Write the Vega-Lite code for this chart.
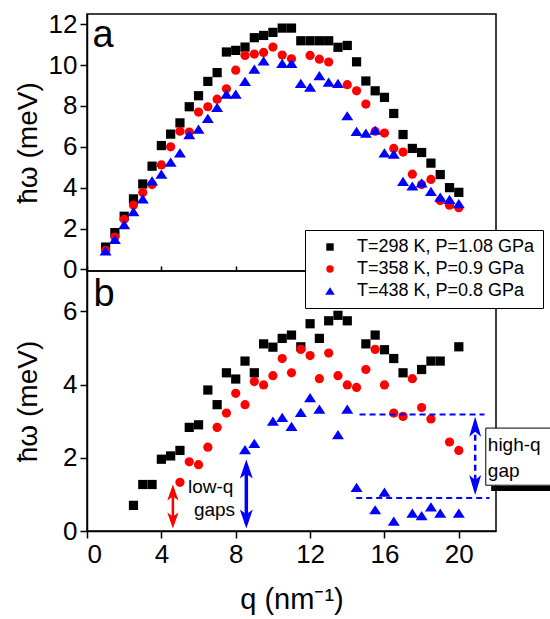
{
  "$schema": "https://vega.github.io/schema/vega-lite/v6.json",
  "background": "white",
  "padding": {"left": 13, "top": 10, "right": 0, "bottom": 0},
  "spacing": 0,
  "bounds": "flush",
  "config": {
    "font": "Liberation Sans",
    "view": {"stroke": "black", "strokeWidth": 1.5},
    "axis": {
      "grid": false,
      "domainColor": "black",
      "domainWidth": 1.5,
      "tickColor": "black",
      "tickWidth": 1.5,
      "tickSize": 7,
      "labelColor": "black",
      "labelFontSize": 26,
      "labelPadding": 3,
      "titleColor": "black",
      "titleFontSize": 28,
      "titleFontWeight": "normal"
    },
    "legend": {
      "orient": "none",
      "legendX": 218,
      "legendY": 216,
      "title": null,
      "padding": 8,
      "strokeColor": "black",
      "fillColor": "white",
      "labelFontSize": 18,
      "labelColor": "black",
      "labelLimit": 0,
      "labelOffset": 18,
      "rowPadding": 4,
      "symbolSize": 55,
      "symbolStrokeWidth": 0,
      "symbolOffset": 8
    }
  },
  "datasets": {
    "panelA": [
      {"series": "T=298 K, P=1.08 GPa", "q": 1, "E": 1.09},
      {"series": "T=298 K, P=1.08 GPa", "q": 1.5, "E": 1.8},
      {"series": "T=298 K, P=1.08 GPa", "q": 2, "E": 2.6},
      {"series": "T=298 K, P=1.08 GPa", "q": 2.5, "E": 3.45},
      {"series": "T=298 K, P=1.08 GPa", "q": 3, "E": 4.18},
      {"series": "T=298 K, P=1.08 GPa", "q": 3.5, "E": 5.05},
      {"series": "T=298 K, P=1.08 GPa", "q": 4, "E": 6.06},
      {"series": "T=298 K, P=1.08 GPa", "q": 4.5, "E": 6.62},
      {"series": "T=298 K, P=1.08 GPa", "q": 5, "E": 7.17},
      {"series": "T=298 K, P=1.08 GPa", "q": 5.5, "E": 7.96},
      {"series": "T=298 K, P=1.08 GPa", "q": 6, "E": 8.5},
      {"series": "T=298 K, P=1.08 GPa", "q": 6.5, "E": 9.2},
      {"series": "T=298 K, P=1.08 GPa", "q": 7, "E": 9.63},
      {"series": "T=298 K, P=1.08 GPa", "q": 7.5, "E": 10.64},
      {"series": "T=298 K, P=1.08 GPa", "q": 8, "E": 10.72},
      {"series": "T=298 K, P=1.08 GPa", "q": 8.5, "E": 10.88},
      {"series": "T=298 K, P=1.08 GPa", "q": 9, "E": 11.34},
      {"series": "T=298 K, P=1.08 GPa", "q": 9.5, "E": 11.45},
      {"series": "T=298 K, P=1.08 GPa", "q": 10, "E": 11.6},
      {"series": "T=298 K, P=1.08 GPa", "q": 10.5, "E": 11.81},
      {"series": "T=298 K, P=1.08 GPa", "q": 11, "E": 11.81},
      {"series": "T=298 K, P=1.08 GPa", "q": 11.5, "E": 11.19},
      {"series": "T=298 K, P=1.08 GPa", "q": 12, "E": 11.19},
      {"series": "T=298 K, P=1.08 GPa", "q": 12.5, "E": 11.19},
      {"series": "T=298 K, P=1.08 GPa", "q": 13, "E": 11.19},
      {"series": "T=298 K, P=1.08 GPa", "q": 13.5, "E": 10.87},
      {"series": "T=298 K, P=1.08 GPa", "q": 14, "E": 10.96},
      {"series": "T=298 K, P=1.08 GPa", "q": 14.5, "E": 10.16},
      {"series": "T=298 K, P=1.08 GPa", "q": 15, "E": 9.22},
      {"series": "T=298 K, P=1.08 GPa", "q": 15.5, "E": 8.74},
      {"series": "T=298 K, P=1.08 GPa", "q": 16, "E": 8.42},
      {"series": "T=298 K, P=1.08 GPa", "q": 16.5, "E": 7.63},
      {"series": "T=298 K, P=1.08 GPa", "q": 17, "E": 6.6},
      {"series": "T=298 K, P=1.08 GPa", "q": 17.5, "E": 5.92},
      {"series": "T=298 K, P=1.08 GPa", "q": 18, "E": 5.72},
      {"series": "T=298 K, P=1.08 GPa", "q": 18.5, "E": 5.2},
      {"series": "T=298 K, P=1.08 GPa", "q": 19, "E": 4.64},
      {"series": "T=298 K, P=1.08 GPa", "q": 19.5, "E": 4.0},
      {"series": "T=298 K, P=1.08 GPa", "q": 20, "E": 3.77},
      {"series": "T=358 K, P=0.9 GPa", "q": 1, "E": 0.93},
      {"series": "T=358 K, P=0.9 GPa", "q": 1.5, "E": 1.58},
      {"series": "T=358 K, P=0.9 GPa", "q": 2, "E": 2.45},
      {"series": "T=358 K, P=0.9 GPa", "q": 2.5, "E": 3.15},
      {"series": "T=358 K, P=0.9 GPa", "q": 3, "E": 3.76},
      {"series": "T=358 K, P=0.9 GPa", "q": 3.5, "E": 4.15},
      {"series": "T=358 K, P=0.9 GPa", "q": 4, "E": 5.11},
      {"series": "T=358 K, P=0.9 GPa", "q": 4.5, "E": 6.0},
      {"series": "T=358 K, P=0.9 GPa", "q": 5, "E": 6.76},
      {"series": "T=358 K, P=0.9 GPa", "q": 5.5, "E": 6.72},
      {"series": "T=358 K, P=0.9 GPa", "q": 6, "E": 7.7},
      {"series": "T=358 K, P=0.9 GPa", "q": 6.5, "E": 7.96},
      {"series": "T=358 K, P=0.9 GPa", "q": 7, "E": 8.33},
      {"series": "T=358 K, P=0.9 GPa", "q": 7.5, "E": 8.84},
      {"series": "T=358 K, P=0.9 GPa", "q": 8, "E": 9.75},
      {"series": "T=358 K, P=0.9 GPa", "q": 8.5, "E": 10.47},
      {"series": "T=358 K, P=0.9 GPa", "q": 9, "E": 10.54},
      {"series": "T=358 K, P=0.9 GPa", "q": 9.5, "E": 10.62},
      {"series": "T=358 K, P=0.9 GPa", "q": 10, "E": 10.88},
      {"series": "T=358 K, P=0.9 GPa", "q": 10.5, "E": 10.49},
      {"series": "T=358 K, P=0.9 GPa", "q": 11, "E": 10.31},
      {"series": "T=358 K, P=0.9 GPa", "q": 12, "E": 10.47},
      {"series": "T=358 K, P=0.9 GPa", "q": 12.5, "E": 10.29},
      {"series": "T=358 K, P=0.9 GPa", "q": 13, "E": 10.15},
      {"series": "T=358 K, P=0.9 GPa", "q": 14, "E": 9.04},
      {"series": "T=358 K, P=0.9 GPa", "q": 14.5, "E": 8.74},
      {"series": "T=358 K, P=0.9 GPa", "q": 15, "E": 8.09},
      {"series": "T=358 K, P=0.9 GPa", "q": 15.5, "E": 6.76},
      {"series": "T=358 K, P=0.9 GPa", "q": 16, "E": 6.67},
      {"series": "T=358 K, P=0.9 GPa", "q": 16.5, "E": 5.92},
      {"series": "T=358 K, P=0.9 GPa", "q": 17, "E": 5.74},
      {"series": "T=358 K, P=0.9 GPa", "q": 17.5, "E": 4.66},
      {"series": "T=358 K, P=0.9 GPa", "q": 18, "E": 4.15},
      {"series": "T=358 K, P=0.9 GPa", "q": 18.5, "E": 4.4},
      {"series": "T=358 K, P=0.9 GPa", "q": 19, "E": 3.37},
      {"series": "T=358 K, P=0.9 GPa", "q": 19.5, "E": 3.14},
      {"series": "T=358 K, P=0.9 GPa", "q": 20, "E": 3.02},
      {"series": "T=438 K, P=0.8 GPa", "q": 1, "E": 0.9},
      {"series": "T=438 K, P=0.8 GPa", "q": 1.5, "E": 1.47},
      {"series": "T=438 K, P=0.8 GPa", "q": 2, "E": 2.19},
      {"series": "T=438 K, P=0.8 GPa", "q": 2.5, "E": 2.83},
      {"series": "T=438 K, P=0.8 GPa", "q": 3, "E": 3.45},
      {"series": "T=438 K, P=0.8 GPa", "q": 3.5, "E": 4.33},
      {"series": "T=438 K, P=0.8 GPa", "q": 4, "E": 4.66},
      {"series": "T=438 K, P=0.8 GPa", "q": 4.5, "E": 5.25},
      {"series": "T=438 K, P=0.8 GPa", "q": 5, "E": 5.7},
      {"series": "T=438 K, P=0.8 GPa", "q": 5.5, "E": 6.6},
      {"series": "T=438 K, P=0.8 GPa", "q": 6, "E": 6.86},
      {"series": "T=438 K, P=0.8 GPa", "q": 6.5, "E": 7.39},
      {"series": "T=438 K, P=0.8 GPa", "q": 7, "E": 7.93},
      {"series": "T=438 K, P=0.8 GPa", "q": 7.5, "E": 8.58},
      {"series": "T=438 K, P=0.8 GPa", "q": 8, "E": 8.58},
      {"series": "T=438 K, P=0.8 GPa", "q": 8.5, "E": 9.2},
      {"series": "T=438 K, P=0.8 GPa", "q": 9, "E": 9.8},
      {"series": "T=438 K, P=0.8 GPa", "q": 9.5, "E": 10.21},
      {"series": "T=438 K, P=0.8 GPa", "q": 10.5, "E": 10.08},
      {"series": "T=438 K, P=0.8 GPa", "q": 11, "E": 10.08},
      {"series": "T=438 K, P=0.8 GPa", "q": 11.5, "E": 9.1},
      {"series": "T=438 K, P=0.8 GPa", "q": 12, "E": 8.92},
      {"series": "T=438 K, P=0.8 GPa", "q": 12.5, "E": 9.48},
      {"series": "T=438 K, P=0.8 GPa", "q": 13, "E": 9.17},
      {"series": "T=438 K, P=0.8 GPa", "q": 13.5, "E": 9.1},
      {"series": "T=438 K, P=0.8 GPa", "q": 14, "E": 7.52},
      {"series": "T=438 K, P=0.8 GPa", "q": 14.5, "E": 6.75},
      {"series": "T=438 K, P=0.8 GPa", "q": 15, "E": 6.67},
      {"series": "T=438 K, P=0.8 GPa", "q": 15.5, "E": 6.81},
      {"series": "T=438 K, P=0.8 GPa", "q": 16, "E": 5.7},
      {"series": "T=438 K, P=0.8 GPa", "q": 16.5, "E": 5.64},
      {"series": "T=438 K, P=0.8 GPa", "q": 17, "E": 4.31},
      {"series": "T=438 K, P=0.8 GPa", "q": 17.5, "E": 4.08},
      {"series": "T=438 K, P=0.8 GPa", "q": 18, "E": 4.23},
      {"series": "T=438 K, P=0.8 GPa", "q": 18.5, "E": 3.82},
      {"series": "T=438 K, P=0.8 GPa", "q": 19, "E": 3.54},
      {"series": "T=438 K, P=0.8 GPa", "q": 19.5, "E": 3.43},
      {"series": "T=438 K, P=0.8 GPa", "q": 20, "E": 3.22}
    ],
    "panelB": [
      {"series": "T=298 K, P=1.08 GPa", "q": 2.5, "E": 0.7},
      {"series": "T=298 K, P=1.08 GPa", "q": 3, "E": 1.27},
      {"series": "T=298 K, P=1.08 GPa", "q": 3.5, "E": 1.27},
      {"series": "T=298 K, P=1.08 GPa", "q": 4, "E": 1.96},
      {"series": "T=298 K, P=1.08 GPa", "q": 4.5, "E": 2.05},
      {"series": "T=298 K, P=1.08 GPa", "q": 5, "E": 2.2},
      {"series": "T=298 K, P=1.08 GPa", "q": 5.5, "E": 2.83},
      {"series": "T=298 K, P=1.08 GPa", "q": 6, "E": 2.9},
      {"series": "T=298 K, P=1.08 GPa", "q": 6.5, "E": 3.85},
      {"series": "T=298 K, P=1.08 GPa", "q": 7, "E": 3.45},
      {"series": "T=298 K, P=1.08 GPa", "q": 7.5, "E": 4.32},
      {"series": "T=298 K, P=1.08 GPa", "q": 8, "E": 4.15},
      {"series": "T=298 K, P=1.08 GPa", "q": 8.5, "E": 4.64},
      {"series": "T=298 K, P=1.08 GPa", "q": 9, "E": 4.32},
      {"series": "T=298 K, P=1.08 GPa", "q": 9.5, "E": 5.11},
      {"series": "T=298 K, P=1.08 GPa", "q": 10, "E": 5.02},
      {"series": "T=298 K, P=1.08 GPa", "q": 10.5, "E": 5.26},
      {"series": "T=298 K, P=1.08 GPa", "q": 11, "E": 5.35},
      {"series": "T=298 K, P=1.08 GPa", "q": 11.5, "E": 5.03},
      {"series": "T=298 K, P=1.08 GPa", "q": 12, "E": 5.66},
      {"series": "T=298 K, P=1.08 GPa", "q": 12.5, "E": 5.26},
      {"series": "T=298 K, P=1.08 GPa", "q": 13, "E": 5.74},
      {"series": "T=298 K, P=1.08 GPa", "q": 13.5, "E": 5.89},
      {"series": "T=298 K, P=1.08 GPa", "q": 14, "E": 5.74},
      {"series": "T=298 K, P=1.08 GPa", "q": 15, "E": 5.11},
      {"series": "T=298 K, P=1.08 GPa", "q": 15.5, "E": 5.35},
      {"series": "T=298 K, P=1.08 GPa", "q": 16, "E": 4.95},
      {"series": "T=298 K, P=1.08 GPa", "q": 16.5, "E": 4.71},
      {"series": "T=298 K, P=1.08 GPa", "q": 17, "E": 4.32},
      {"series": "T=298 K, P=1.08 GPa", "q": 18, "E": 4.41},
      {"series": "T=298 K, P=1.08 GPa", "q": 18.5, "E": 4.64},
      {"series": "T=298 K, P=1.08 GPa", "q": 19, "E": 4.64},
      {"series": "T=298 K, P=1.08 GPa", "q": 20, "E": 5.03},
      {"series": "T=358 K, P=0.9 GPa", "q": 5, "E": 1.33},
      {"series": "T=358 K, P=0.9 GPa", "q": 5.5, "E": 1.89},
      {"series": "T=358 K, P=0.9 GPa", "q": 6, "E": 1.81},
      {"series": "T=358 K, P=0.9 GPa", "q": 6.5, "E": 2.29},
      {"series": "T=358 K, P=0.9 GPa", "q": 7, "E": 2.83},
      {"series": "T=358 K, P=0.9 GPa", "q": 7.5, "E": 3.22},
      {"series": "T=358 K, P=0.9 GPa", "q": 8, "E": 3.76},
      {"series": "T=358 K, P=0.9 GPa", "q": 8.5, "E": 3.45},
      {"series": "T=358 K, P=0.9 GPa", "q": 9, "E": 4.08},
      {"series": "T=358 K, P=0.9 GPa", "q": 9.5, "E": 3.99},
      {"series": "T=358 K, P=0.9 GPa", "q": 10, "E": 4.24},
      {"series": "T=358 K, P=0.9 GPa", "q": 10.5, "E": 4.71},
      {"series": "T=358 K, P=0.9 GPa", "q": 11, "E": 4.32},
      {"series": "T=358 K, P=0.9 GPa", "q": 11.5, "E": 4.96},
      {"series": "T=358 K, P=0.9 GPa", "q": 12, "E": 4.79},
      {"series": "T=358 K, P=0.9 GPa", "q": 12.5, "E": 4.16},
      {"series": "T=358 K, P=0.9 GPa", "q": 13, "E": 4.86},
      {"series": "T=358 K, P=0.9 GPa", "q": 13.5, "E": 4.24},
      {"series": "T=358 K, P=0.9 GPa", "q": 14, "E": 3.99},
      {"series": "T=358 K, P=0.9 GPa", "q": 14.5, "E": 3.92},
      {"series": "T=358 K, P=0.9 GPa", "q": 15, "E": 4.41},
      {"series": "T=358 K, P=0.9 GPa", "q": 15.5, "E": 4.96},
      {"series": "T=358 K, P=0.9 GPa", "q": 16, "E": 3.99},
      {"series": "T=358 K, P=0.9 GPa", "q": 16.5, "E": 3.22},
      {"series": "T=358 K, P=0.9 GPa", "q": 17, "E": 3.13},
      {"series": "T=358 K, P=0.9 GPa", "q": 17.5, "E": 4.16},
      {"series": "T=358 K, P=0.9 GPa", "q": 18, "E": 3.37},
      {"series": "T=358 K, P=0.9 GPa", "q": 18.5, "E": 3.06},
      {"series": "T=358 K, P=0.9 GPa", "q": 19.5, "E": 2.43},
      {"series": "T=358 K, P=0.9 GPa", "q": 20, "E": 2.2},
      {"series": "T=438 K, P=0.8 GPa", "q": 8.5, "E": 2.22},
      {"series": "T=438 K, P=0.8 GPa", "q": 9, "E": 2.39},
      {"series": "T=438 K, P=0.8 GPa", "q": 10, "E": 3.0},
      {"series": "T=438 K, P=0.8 GPa", "q": 10.5, "E": 3.1},
      {"series": "T=438 K, P=0.8 GPa", "q": 11, "E": 2.86},
      {"series": "T=438 K, P=0.8 GPa", "q": 11.5, "E": 3.24},
      {"series": "T=438 K, P=0.8 GPa", "q": 12, "E": 3.64},
      {"series": "T=438 K, P=0.8 GPa", "q": 12.5, "E": 3.33},
      {"series": "T=438 K, P=0.8 GPa", "q": 13.5, "E": 2.63},
      {"series": "T=438 K, P=0.8 GPa", "q": 14, "E": 3.33},
      {"series": "T=438 K, P=0.8 GPa", "q": 14.5, "E": 1.19},
      {"series": "T=438 K, P=0.8 GPa", "q": 15.5, "E": 0.58},
      {"series": "T=438 K, P=0.8 GPa", "q": 16, "E": 1.06},
      {"series": "T=438 K, P=0.8 GPa", "q": 16.5, "E": 0.27},
      {"series": "T=438 K, P=0.8 GPa", "q": 17.5, "E": 0.49},
      {"series": "T=438 K, P=0.8 GPa", "q": 18, "E": 0.42},
      {"series": "T=438 K, P=0.8 GPa", "q": 18.5, "E": 0.66},
      {"series": "T=438 K, P=0.8 GPa", "q": 19, "E": 0.49},
      {"series": "T=438 K, P=0.8 GPa", "q": 20, "E": 0.49}
    ]
  },
  "vconcat": [
    {
      "width": 409,
      "height": 257,
      "layer": [
        {
          "data": {"name": "panelA"},
          "mark": {"type": "point", "filled": true, "opacity": 1, "size": 85},
          "encoding": {
            "x": {"field": "q", "type": "quantitative",
                  "scale": {"domain": [0, 22], "nice": false},
                  "axis": {"values": [0, 2, 4, 6, 8, 10, 12, 14, 16, 18, 20, 22], "labels": false, "title": null, "tickSize": -5, "domain": false}},
            "y": {"field": "E", "type": "quantitative",
                  "scale": {"domain": [-0.08, 12.5], "nice": false, "zero": false},
                  "axis": {"values": [0, 1, 2, 3, 4, 5, 6, 7, 8, 9, 10, 11, 12],
                           "labelExpr": "datum.value % 2 === 0 ? datum.label : ''",
                           "title": "ħω (meV)", "titlePadding": 6}},
            "color": {"field": "series", "type": "nominal",
                      "scale": {"domain": ["T=298 K, P=1.08 GPa", "T=358 K, P=0.9 GPa", "T=438 K, P=0.8 GPa"], "range": ["#000000", "#ff0000", "#0000ff"]}},
            "shape": {"field": "series", "type": "nominal",
                      "scale": {"domain": ["T=298 K, P=1.08 GPa", "T=358 K, P=0.9 GPa", "T=438 K, P=0.8 GPa"], "range": ["square", "circle", "M0,-1L1.3,1L-1.3,1Z"]}}
          }
        },
        {
          "data": {"values": [{"label": "a", "q": 0.3, "E": 11.4}]},
          "mark": {"type": "text", "align": "left", "baseline": "middle", "fontSize": 38, "color": "black"},
          "encoding": {
            "x": {"field": "q", "type": "quantitative"},
            "y": {"field": "E", "type": "quantitative"},
            "text": {"field": "label"}
          }
        }
      ]
    },
    {
      "width": 409,
      "height": 260,
      "layer": [
        {
          "data": {"name": "panelB"},
          "mark": {"type": "point", "filled": true, "opacity": 1, "size": 85},
          "encoding": {
            "x": {"field": "q", "type": "quantitative",
                  "scale": {"domain": [0, 22], "nice": false},
                  "axis": {"values": [0, 2, 4, 6, 8, 10, 12, 14, 16, 18, 20, 22],
                           "labelExpr": "datum.value % 4 === 0 ? datum.label : ''",
                           "title": "q (nm⁻¹)", "titleFontSize": 29, "titlePadding": 18}},
            "y": {"field": "E", "type": "quantitative",
                  "scale": {"domain": [0, 7.1], "nice": false},
                  "axis": {"values": [0, 1, 2, 3, 4, 5, 6, 7],
                           "labelExpr": "datum.value % 2 === 0 ? datum.label : ''",
                           "title": "ħω (meV)", "titlePadding": 20}},
            "color": {"field": "series", "type": "nominal"},
            "shape": {"field": "series", "type": "nominal"}
          }
        },
        {
          "data": {"values": [{"q": 4.62, "lo": 0.2, "hi": 1.15}]},
          "mark": {"type": "rule", "color": "#ff0000", "strokeWidth": 2.5},
          "encoding": {"x": {"field": "q", "type": "quantitative"}, "y": {"field": "lo", "type": "quantitative"}, "y2": {"field": "hi"}}
        },
        {
          "data": {"values": [{"q": 4.62, "E": 1.27}]},
          "mark": {"type": "point", "filled": true, "opacity": 1, "color": "#ff0000", "size": 256, "shape": "M0,0L0.7,2L0,1.5L-0.7,2Z"},
          "encoding": {"x": {"field": "q", "type": "quantitative"}, "y": {"field": "E", "type": "quantitative"}}
        },
        {
          "data": {"values": [{"q": 4.62, "E": 0.07}]},
          "mark": {"type": "point", "filled": true, "opacity": 1, "color": "#ff0000", "size": 256, "shape": "M0,0L-0.7,-2L0,-1.5L0.7,-2Z"},
          "encoding": {"x": {"field": "q", "type": "quantitative"}, "y": {"field": "E", "type": "quantitative"}}
        },
        {
          "data": {"values": [{"q": 8.57, "lo": 0.2, "hi": 1.8}]},
          "mark": {"type": "rule", "color": "#0000ff", "strokeWidth": 3.5},
          "encoding": {"x": {"field": "q", "type": "quantitative"}, "y": {"field": "lo", "type": "quantitative"}, "y2": {"field": "hi"}}
        },
        {
          "data": {"values": [{"q": 8.57, "E": 1.95}]},
          "mark": {"type": "point", "filled": true, "opacity": 1, "color": "#0000ff", "size": 361, "shape": "M0,0L0.68,2L0,1.5L-0.68,2Z"},
          "encoding": {"x": {"field": "q", "type": "quantitative"}, "y": {"field": "E", "type": "quantitative"}}
        },
        {
          "data": {"values": [{"q": 8.57, "E": 0.07}]},
          "mark": {"type": "point", "filled": true, "opacity": 1, "color": "#0000ff", "size": 361, "shape": "M0,0L-0.68,-2L0,-1.5L0.68,-2Z"},
          "encoding": {"x": {"field": "q", "type": "quantitative"}, "y": {"field": "E", "type": "quantitative"}}
        },
        {
          "data": {"values": [{"q": 20.88, "lo": 1.1, "hi": 3.0}]},
          "mark": {"type": "rule", "color": "#0000ff", "strokeWidth": 2.5, "strokeDash": [6, 4]},
          "encoding": {"x": {"field": "q", "type": "quantitative"}, "y": {"field": "lo", "type": "quantitative"}, "y2": {"field": "hi"}}
        },
        {
          "data": {"values": [{"q": 20.88, "E": 3.12}]},
          "mark": {"type": "point", "filled": true, "opacity": 1, "color": "#0000ff", "size": 400, "shape": "M0,0L0.6,2L0,1.5L-0.6,2Z"},
          "encoding": {"x": {"field": "q", "type": "quantitative"}, "y": {"field": "E", "type": "quantitative"}}
        },
        {
          "data": {"values": [{"q": 20.88, "E": 0.98}]},
          "mark": {"type": "point", "filled": true, "opacity": 1, "color": "#0000ff", "size": 400, "shape": "M0,0L-0.6,-2L0,-1.5L0.6,-2Z"},
          "encoding": {"x": {"field": "q", "type": "quantitative"}, "y": {"field": "E", "type": "quantitative"}}
        },
        {
          "data": {"values": [{"q1": 14.66, "q2": 21.38, "E": 3.18}, {"q1": 14.48, "q2": 21.65, "E": 0.9}]},
          "mark": {"type": "rule", "color": "#0000ff", "strokeWidth": 2, "strokeDash": [6, 4]},
          "encoding": {"x": {"field": "q1", "type": "quantitative"}, "x2": {"field": "q2"}, "y": {"field": "E", "type": "quantitative"}}
        },
        {
          "data": {"values": [{"q1": 21.74, "q2": 26, "E": 1.16}]},
          "mark": {"type": "rule", "color": "black", "strokeWidth": 5},
          "encoding": {"x": {"field": "q1", "type": "quantitative"}, "x2": {"field": "q2"}, "y": {"field": "E", "type": "quantitative"}}
        },
        {
          "data": {"values": [{"q1": 21.45, "q2": 26, "E1": 1.25, "E2": 2.81}]},
          "mark": {"type": "rect", "fill": "white", "stroke": "black", "strokeWidth": 1},
          "encoding": {"x": {"field": "q1", "type": "quantitative"}, "x2": {"field": "q2"}, "y": {"field": "E1", "type": "quantitative"}, "y2": {"field": "E2"}}
        },
        {
          "data": {"values": [
            {"label": "low-q", "q": 5.43, "E": 1.19},
            {"label": "gaps", "q": 5.75, "E": 0.57},
            {"label": "high-q", "q": 21.56, "E": 2.34},
            {"label": "gap", "q": 21.56, "E": 1.65}
          ]},
          "mark": {"type": "text", "align": "left", "baseline": "middle", "fontSize": 19, "color": "black"},
          "encoding": {
            "x": {"field": "q", "type": "quantitative"},
            "y": {"field": "E", "type": "quantitative"},
            "text": {"field": "label"}
          }
        },
        {
          "data": {"values": [{"label": "b", "q": 0.35, "E": 6.45}]},
          "mark": {"type": "text", "align": "left", "baseline": "middle", "fontSize": 38, "color": "black"},
          "encoding": {
            "x": {"field": "q", "type": "quantitative"},
            "y": {"field": "E", "type": "quantitative"},
            "text": {"field": "label"}
          }
        }
      ]
    }
  ]
}
